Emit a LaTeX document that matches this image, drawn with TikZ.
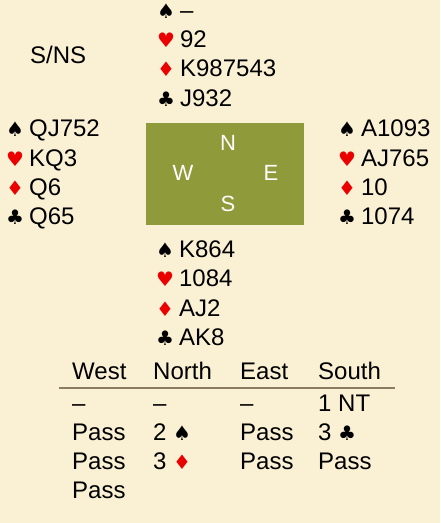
\documentclass[tikz,border=0pt]{standalone}
\usepackage{fontspec}
\setmainfont{Liberation Sans}
\newfontfamily\suitfont{DejaVu Sans}
\definecolor{paper}{RGB}{250,240,212}
\definecolor{felt}{RGB}{143,155,58}
\definecolor{rulecol}{RGB}{139,125,100}
\definecolor{suitred}{RGB}{235,0,0}
% suit symbols
\newcommand{\spd}{{\suitfont\fontsize{20}{20}\selectfont ♠}}
\newcommand{\hrt}{{\color{suitred}\suitfont\fontsize{20}{20}\selectfont ♥}}
\newcommand{\dmd}{{\color{suitred}\suitfont\fontsize{20}{20}\selectfont ♦}}
\newcommand{\clb}{{\suitfont\fontsize{20}{20}\selectfont ♣}}
\newcommand{\gap}{\hspace{5pt}}
\tikzset{
  cardline/.style={anchor=base west, inner sep=0pt, font=\fontsize{24}{24}\selectfont},
  seat/.style={text=white, inner sep=0pt, font=\fontsize{22}{22}\selectfont},
}
\begin{document}
\begin{tikzpicture}[x=1pt, y=-1pt]
    \fill[paper] (0,0) rectangle (440,523);
    \useasboundingbox (0,0) rectangle (440,523);

    \node[cardline] (deal) at (30,63) {S/NS};

    % North
    \node[cardline] (ns) at (157,18) {\spd\gap--};
    \node[cardline] (nh) at (157,47) {\hrt\gap 92};
    \node[cardline] (nd) at (157,76) {\dmd\gap K987543};
    \node[cardline] (nc) at (157,106) {\clb\gap J932};

    % West
    \node[cardline] (ws) at (6,136) {\spd\gap QJ752};
    \node[cardline] (wh) at (6,166) {\hrt\gap KQ3};
    \node[cardline] (wd) at (6,195) {\dmd\gap Q6};
    \node[cardline] (wc) at (6,224) {\clb\gap Q65};

    % East
    \node[cardline] (es) at (338,136) {\spd\gap A1093};
    \node[cardline] (eh) at (338,166) {\hrt\gap AJ765};
    \node[cardline] (ed) at (338,195) {\dmd\gap 10};
    \node[cardline] (ec) at (338,224) {\clb\gap 1074};

    % table
    \node[fill=felt, minimum width=158pt, minimum height=102pt, inner sep=0pt] (table) at (225,174) {};
    \node[seat] (seatN) at (228,143) {N};
    \node[seat] (seatW) at (183,173) {W};
    \node[seat] (seatE) at (271,173) {E};
    \node[seat] (seatS) at (228,204) {S};

    % South
    \node[cardline] (ss) at (156,257) {\spd\gap K864};
    \node[cardline] (sh) at (156,286) {\hrt\gap 1084};
    \node[cardline] (sd) at (156,316) {\dmd\gap AJ2};
    \node[cardline] (sc) at (156,345) {\clb\gap AK8};

    % bidding
    \node[cardline] (hW) at (72,379) {West};
    \node[cardline] (hN) at (153,379) {North};
    \node[cardline] (hE) at (240,379) {East};
    \node[cardline] (hS) at (318,379) {South};
    \coordinate (ruleL) at (59,388);
    \coordinate (ruleR) at (395,388);
    \draw[rulecol, line width=1.5pt] (ruleL) -- (ruleR);

    \node[cardline] (b1w) at (72,411) {--};
    \node[cardline] (b1n) at (153,411) {--};
    \node[cardline] (b1e) at (240,411) {--};
    \node[cardline] (b1s) at (318,411) {1 NT};
    \node[cardline] (b2w) at (72,440) {Pass};
    \node[cardline] (b2n) at (153,440) {2 \spd};
    \node[cardline] (b2e) at (240,440) {Pass};
    \node[cardline] (b2s) at (318,440) {3 \clb};
    \node[cardline] (b3w) at (72,469) {Pass};
    \node[cardline] (b3n) at (153,469) {3 \dmd};
    \node[cardline] (b3e) at (240,469) {Pass};
    \node[cardline] (b3s) at (318,469) {Pass};
    \node[cardline] (b4w) at (72,498) {Pass};
\end{tikzpicture}
\end{document}
